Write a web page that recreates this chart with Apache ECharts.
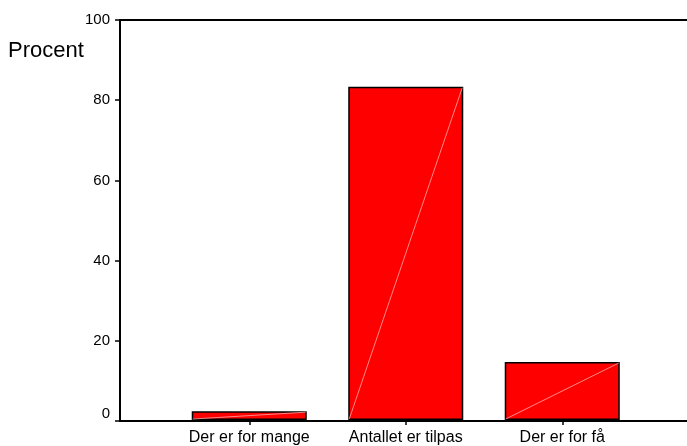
<!DOCTYPE html>
<html>
<head>
<meta charset="utf-8">
<script src="https://cdn.jsdelivr.net/npm/echarts@6/dist/echarts.min.js"></script>
<style>
	html,body{margin:0;padding:0;background:#fff;}
	#chart{width:687px;height:446px;}
</style>
</head>
<body>
<div id="chart"></div>
<script>
var categories = ['Der er for mange', 'Antallet er tilpas', 'Der er for få'];
var procent = [2.2, 83.3, 14.5];
var yTicks = [0, 20, 40, 60, 80, 100];

var font = 'Liberation Sans, Arial, sans-serif';
var myChart = echarts.init(document.getElementById('chart'));

var option = {
	backgroundColor: '#fff',
	animation: false,
	graphic: [{
		type: 'text',
		left: 8,
		top: 40,
		style: {
			text: 'Procent',
			font: '22px ' + font,
			fill: '#000'
		}
	}],
	grid: [
		{left: 120, right: 0, top: 20, bottom: 25},
		{left: 171, right: 46.5, top: 20, bottom: 25}
	],
	xAxis: [
		{
			gridIndex: 0, type: 'value', min: 0, max: 1, position: 'bottom',
			axisLine: {show: true, lineStyle: {color: '#000', width: 2}},
			axisTick: {show: false}, axisLabel: {show: false}, splitLine: {show: false}
		},
		{
			gridIndex: 0, type: 'value', min: 0, max: 1, position: 'top',
			axisLine: {show: true, lineStyle: {color: '#000', width: 2}},
			axisTick: {show: false}, axisLabel: {show: false}, splitLine: {show: false}
		},
		{
			gridIndex: 1, type: 'category', data: categories,
			axisLine: {show: false},
			axisTick: {show: true, alignWithLabel: true, length: 5, lineStyle: {color: '#000', width: 1.5}},
			axisLabel: {color: '#000', fontSize: 16, fontFamily: font, margin: 10, interval: 0},
			splitLine: {show: false}
		}
	],
	yAxis: [
		{
			gridIndex: 0, type: 'value', min: yTicks[0], max: yTicks[yTicks.length - 1], interval: 20,
			axisLine: {show: true, lineStyle: {color: '#000', width: 2}},
			axisTick: {show: true, length: 5, lineStyle: {color: '#000', width: 1.5}},
			axisLabel: {
				color: '#000', fontSize: 15, fontFamily: font, margin: 10,
				formatter: function(v){
					return v === 0 ? '{z|0}' : String(v);
				},
				rich: {
					z: {fontSize: 15, fontFamily: font, color: '#000', padding: [0, 0, 14, 0]}
				}
			},
			splitLine: {show: false}
		},
		{
			gridIndex: 1, type: 'value', min: 0, max: 100, show: false
		}
	],
	series: [
		{
			type: 'bar',
			xAxisIndex: 2,
			yAxisIndex: 1,
			barWidth: '73.5%',
			itemStyle: {color: '#ff0000', borderColor: '#000', borderWidth: 1.5},
			data: procent
		},
		{
			type: 'custom',
			xAxisIndex: 2,
			yAxisIndex: 1,
			silent: true,
			z: 5,
			renderItem: function(params, api){
				var idx = api.value(0);
				var v = api.value(1);
				var p0 = api.coord([idx, 0]);
				var p1 = api.coord([idx, v]);
				var w = api.size([1, 0])[0] * 0.735;
				return {
					type: 'line',
					shape: {x1: p0[0] - w / 2 + 1, y1: p0[1] - 1, x2: p1[0] + w / 2 - 1, y2: p1[1] + 1},
					style: {stroke: 'rgba(255,170,170,0.8)', lineWidth: 1}
				};
			},
			data: procent.map(function(v, i){ return [i, v]; })
		}
	]
};
myChart.setOption(option);
</script>
</body>
</html>
